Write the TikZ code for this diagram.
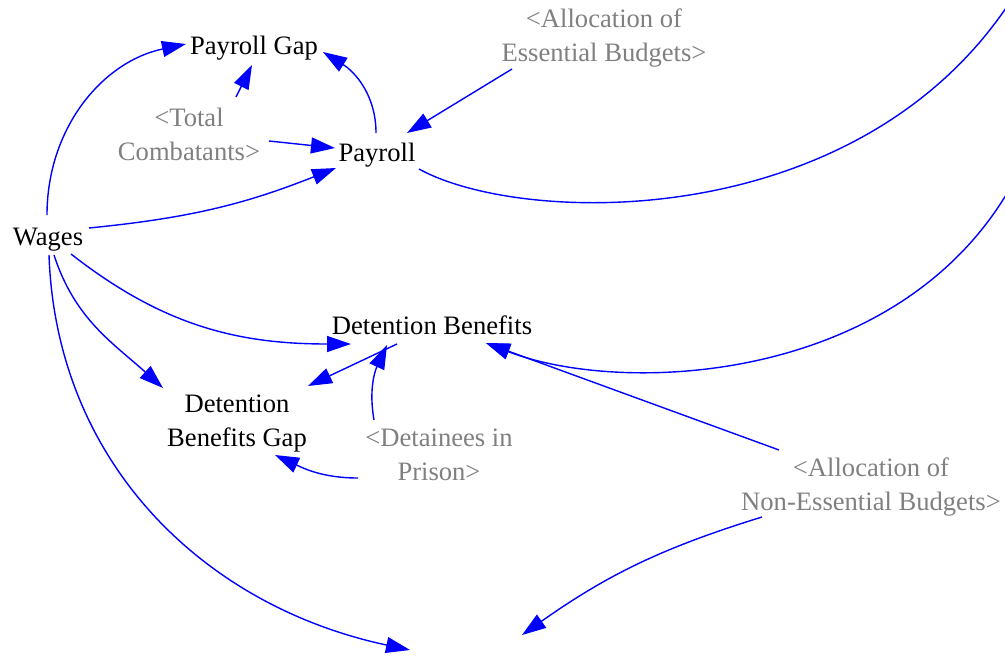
\documentclass[tikz,border=0pt]{standalone}
\usepackage{fontspec}
\setmainfont{Liberation Serif}
\usepackage{xcolor}
\usepackage{tikz}
\usetikzlibrary{arrows.meta,calc}
\definecolor{sdBlue}{HTML}{0000FF}
\definecolor{sdGray}{HTML}{808080}
\definecolor{sdInk}{HTML}{000000}

\begin{document}
\begin{tikzpicture}[
  x=.5pt, y=-.5pt,
  var/.style={font=\fontsize{13.3}{17}\selectfont, text=sdInk, align=center, inner sep=2pt},
  shadow/.style={var, text=sdGray},
  link/.style={-{Triangle[length=12pt,width=8pt]}, line width=.7pt, draw=sdBlue}
]
  \useasboundingbox (0,0) rectangle (1005,658);
  % variables
  \node[var] (pgap) at (254,48) {Payroll Gap};
  \node[var] (payroll) at (377,155) {Payroll};
  \node[var] (wages) at (48,240) {Wages};
  \node[var] (db) at (432,325) {Detention Benefits};
  \node[var] (dbg) at (237,424) {Detention\\Benefits Gap};
  % shadow variables
  \node[shadow] (tc) at (189,134) {<Total\\Combatants>};
  \node[shadow] (aeb) at (604,38) {<Allocation of\\Essential Budgets>};
  \node[shadow] (dip) at (439,455) {<Detainees in\\Prison>};
  \node[shadow] (aen) at (871,487) {<Allocation of\\Non-Essential Budgets>};
  % free ends
  \coordinate (outA) at (1006,8);
  \coordinate (outB) at (1006,195);
  \coordinate (endW) at (410,650);
  \coordinate (endA) at (522,635);
  % links
  \draw[link] ($(wages)+(-1,-25)$) to[out=90,in=192] ($(pgap)+(-68,-4)$);
  \draw[link] ($(tc)+(47,-37)$) -- ($(pgap)+(-2,17)$);
  \draw[link] ($(tc)+(80,7)$) -- ($(payroll)+(-42,-7)$);
  \draw[link] ($(wages)+(41,-12)$) to[bend right=8] ($(payroll)+(-41,13)$);
  \draw[link] ($(payroll)+(-1,-22)$) to[out=90,in=-32] ($(pgap)+(69,4)$);
  \draw[link] ($(aeb)+(-92,31)$) -- ($(payroll)+(30,-22)$);
  \draw[line width=.7pt, draw=sdBlue] ($(payroll)+(42,14)$) .. controls (520,225) and (850,235) .. (outA);
  \draw[link] (outB) .. controls (890,385) and (620,395) .. ($(db)+(54,18)$);
  \draw[link] ($(aen)+(-92,-37)$) -- ($(db)+(54,18)$);
  \draw[link] ($(wages)+(23,14)$) to[out=-38,in=180] ($(db)+(-81,19)$);
  \draw[link] ($(wages)+(6,15)$) to[out=-72,in=138] ($(dbg)+(-74,-36)$);
  \draw[link] ($(wages)+(1,15)$) to[out=-88,in=168] (endW);
  \draw[link] ($(db)+(-35,19)$) -- ($(dbg)+(71,-38)$);
  \draw[link] ($(dip)+(-65,-35)$) to[out=100,in=-115] ($(db)+(-45,20)$);
  \draw[link] ($(dip)+(-81,23)$) to[out=180,in=-25] ($(dbg)+(38,31)$);
  \draw[link] ($(aen)+(-109,30)$) to[bend right=9] (endA);
\end{tikzpicture}
\end{document}
